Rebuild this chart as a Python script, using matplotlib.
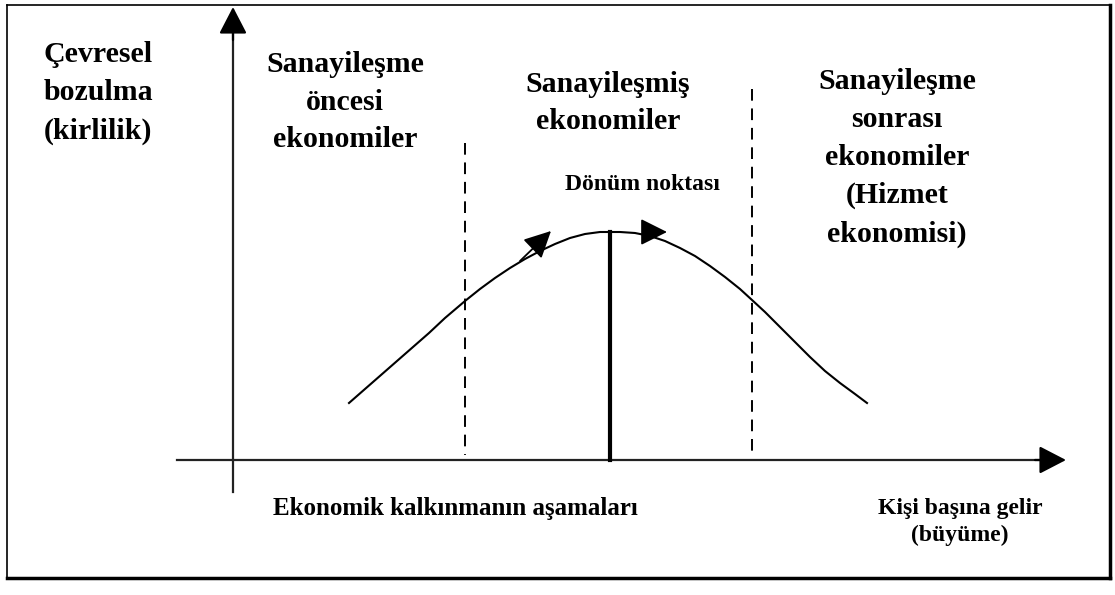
import matplotlib.pyplot as plt

# Kuznets curve (pixel-like units, y grows downward)
curve_x = [349, 365, 381, 397, 413, 429, 445, 465, 480, 495, 510, 525, 540, 555, 570, 585, 600, 610,
           620, 635, 650, 665, 680, 695, 710, 725, 740, 752, 765, 780, 795, 810, 825, 840, 855, 867]
curve_y = [403, 389, 375, 361, 347, 333, 318, 301, 289, 278, 268, 259, 251, 244, 238, 234, 232, 232,
           232, 233, 236, 241, 248, 256, 266, 277, 289, 300, 312, 327, 342, 357, 371, 383, 394, 403]

divider_x = [465, 752]
divider_top = [143, 89]
peak_x = 610
peak_y = 232
axis_y = 460
axis_x = 233

region_labels = ["Sanayileşme\nöncesi\nekonomiler",
                 "Sanayileşmiş\nekonomiler",
                 "Sanayileşme\nsonrası\nekonomiler\n(Hizmet\nekonomisi)"]
y_label = "Çevresel\nbozulma\n(kirlilik)"
peak_label = "Dönüm noktası"
stage_label = "Ekonomik kalkınmanın aşamaları"
x_label = "Kişi başına gelir\n(büyüme)"

font = dict(family="Liberation Serif", weight="bold", color="black")

fig = plt.figure(figsize=(11.15, 5.95), dpi=100)
ax = fig.add_axes([0, 0, 1, 1])
ax.set_xlim(0, 1115)
ax.set_ylim(595, 0)
ax.axis("off")

# frame
ax.plot([7, 1110], [5, 5], color="black", lw=1.2)
ax.plot([7, 7], [5, 578], color="black", lw=1.2)
ax.plot([1110, 1110], [5, 578], color="black", lw=2.5)
ax.plot([7, 1110], [578, 578], color="black", lw=2.5)

# axes with arrow heads
head = dict(arrowstyle="-|>,head_length=0.83,head_width=0.43", color="black",
            lw=1.6, shrinkA=0, shrinkB=0, mutation_scale=20)
ax.plot([axis_x, axis_x], [492, 30], color="#222222", lw=1.6)
ax.annotate("", xy=(axis_x, 7), xytext=(axis_x, 40), arrowprops=head)
ax.plot([177, 1045], [axis_y, axis_y], color="#222222", lw=1.6)
ax.annotate("", xy=(1066, axis_y), xytext=(1035, axis_y), arrowprops=head)

# stage dividers
for x, top in zip(divider_x, divider_top):
    ax.plot([x, x], [top, axis_y - 5], color="black", lw=1.4,
            linestyle=(0, (6, 4)))
ax.plot([peak_x, peak_x], [peak_y, axis_y], color="black", lw=3)

# curve
ax.plot(curve_x, curve_y, color="black", lw=1.5, solid_joinstyle="round")
small = dict(arrowstyle="-|>,head_length=1.1,head_width=0.55", color="black",
             lw=1.3, shrinkA=0, shrinkB=0, mutation_scale=15)
ax.annotate("", xy=(551, 231), xytext=(520, 261), arrowprops=small)
ax.annotate("", xy=(667, 232), xytext=(645, 232), arrowprops=small)

# texts
big = dict(fontsize=21.5, ha="center", va="center", linespacing=1.52, **font)
ax.text(98, 93, y_label, **big)
ax.text(345, 102, region_labels[0], **big)
ax.text(608, 103, region_labels[1], **big)
ax.text(897, 158, region_labels[2], **big)
ax.text(642, 185, peak_label, fontsize=17, ha="center", va="center", **font)
ax.text(455, 508, stage_label, fontsize=18, ha="center", va="center", **font)
ax.text(960, 522, x_label, fontsize=17, ha="center", va="center",
        linespacing=1.35, **font)

plt.savefig("out.png", dpi=100)
